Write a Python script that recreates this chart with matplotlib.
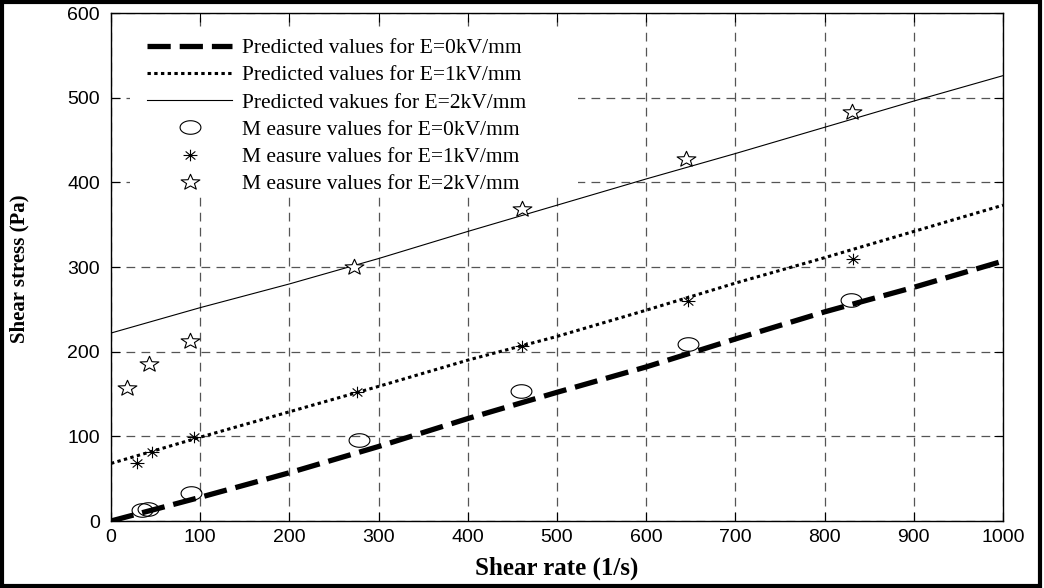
import numpy as np
import matplotlib
matplotlib.use("Agg")
import matplotlib.pyplot as plt
from matplotlib.path import Path
from matplotlib.patches import Rectangle

# shear rate grid used for the model curves
rate_pred = [0, 100, 200, 300, 400, 500, 600, 700, 800, 900, 1000]
pred_e0 = [0, 28, 57, 88, 121, 152, 182, 215, 247, 276, 307]
pred_e1 = [68, 99, 129, 159, 190, 218, 249, 281, 311, 342, 373]
pred_e2 = [222, 252, 280, 310, 342, 373, 404, 434, 465, 496, 526]

# measurements
rate_e0 = [35, 41, 90, 278, 460, 647, 830]
meas_e0 = [13, 14, 33, 96, 154, 209, 261]
rate_e1 = [29, 46, 93, 276, 461, 647, 832]
meas_e1 = [69, 81, 99, 152, 207, 260, 310]
rate_e2 = [18, 43, 89, 272, 461, 645, 831]
meas_e2 = [157, 186, 213, 300, 368, 428, 483]

labels = ["Predicted values for E=0kV/mm",
          "Predicted values for E=1kV/mm",
          "Predicted vakues for E=2kV/mm",
          "M easure values for E=0kV/mm",
          "M easure values for E=1kV/mm",
          "M easure values for E=2kV/mm"]

# marker shapes: flattened circle, wide pentagram, 8-spoke asterisk
t = np.linspace(0, 2 * np.pi, 64)
ellipse = Path(np.column_stack([np.cos(t), 0.65 * np.sin(t)]), closed=True)

ang = np.pi / 2 + np.arange(10) * np.pi / 5
rad = np.where(np.arange(10) % 2 == 0, 1.0, 0.42)
sv = np.column_stack([1.2 * rad * np.cos(ang), rad * np.sin(ang)])
star = Path(np.vstack([sv, sv[:1]]), closed=True)

d = 0.7
ast_v = [(-1.2, 0), (1.2, 0), (0, -1), (0, 1), (-d * 1.2, -d), (d * 1.2, d), (-d * 1.2, d), (d * 1.2, -d)]
ast_c = [Path.MOVETO, Path.LINETO] * 4
asterisk = Path(ast_v, ast_c)

fig = plt.figure(figsize=(10.44, 5.88), dpi=100)
ax = fig.add_axes([111 / 1044, 1 - 521 / 588, 892 / 1044, 508 / 588])

ax.plot(rate_pred, pred_e0, color="black", lw=3.8, dashes=(4.4, 1.7), solid_capstyle="butt", label=labels[0])
ax.plot(rate_pred, pred_e1, color="black", lw=2.2, dashes=(1.1, 1.1), label=labels[1])
ax.plot(rate_pred, pred_e2, color="black", lw=0.8, label=labels[2])
ax.plot(rate_e0, meas_e0, ls="none", marker=ellipse, ms=15, mfc="none", mec="black", mew=0.8, label=labels[3])
ax.plot(rate_e1, meas_e1, ls="none", marker=asterisk, ms=10, mfc="none", mec="black", mew=0.8, label=labels[4])
ax.plot(rate_e2, meas_e2, ls="none", marker=star, ms=13.5, mfc="white", mec="black", mew=0.8, label=labels[5])

ax.set_xlim(0, 1000)
ax.set_ylim(0, 600)
ax.set_xticks(np.arange(0, 1001, 100))
ax.set_yticks(np.arange(0, 601, 100))
ax.grid(True, color="#555555", lw=0.9, dashes=(7, 5))
ax.tick_params(direction="in", top=True, right=True, length=6.5, width=0.8)
ax.tick_params(axis="x", pad=6)
ax.tick_params(axis="y", pad=8)
for lab in ax.get_xticklabels() + ax.get_yticklabels():
    lab.set_fontfamily("Liberation Sans")
    lab.set_fontsize(14)
for s in ax.spines.values():
    s.set_linewidth(1.0)

ax.set_xlabel("Shear rate (1/s)", family="Liberation Serif", fontweight="bold", fontsize=18)
ax.set_ylabel("Shear stress (Pa)", family="Liberation Serif", fontweight="bold", fontsize=15)
ax.xaxis.set_label_coords(0.5, -0.07)
ax.yaxis.set_label_coords(-0.0915, 0.497)

# white block behind the legend entries hides the grid there
ax.add_patch(Rectangle((0.0213, 0.645), 0.502, 0.325, transform=ax.transAxes,
                       facecolor="white", edgecolor="none", zorder=1.8))

leg = ax.legend(loc="upper left", bbox_to_anchor=(36 / 892, 1 - 25 / 508), frameon=False,
                prop={"family": "Liberation Serif", "size": 15.5}, handlelength=3.95,
                handletextpad=0.45, labelspacing=0.335, borderpad=0, borderaxespad=0)

# frame around the whole figure
fig.patches.append(Rectangle((0.002, 0.003), 0.994, 0.993, transform=fig.transFigure,
                             fill=False, edgecolor="black", lw=3))

fig.savefig("out.png", dpi=100)
